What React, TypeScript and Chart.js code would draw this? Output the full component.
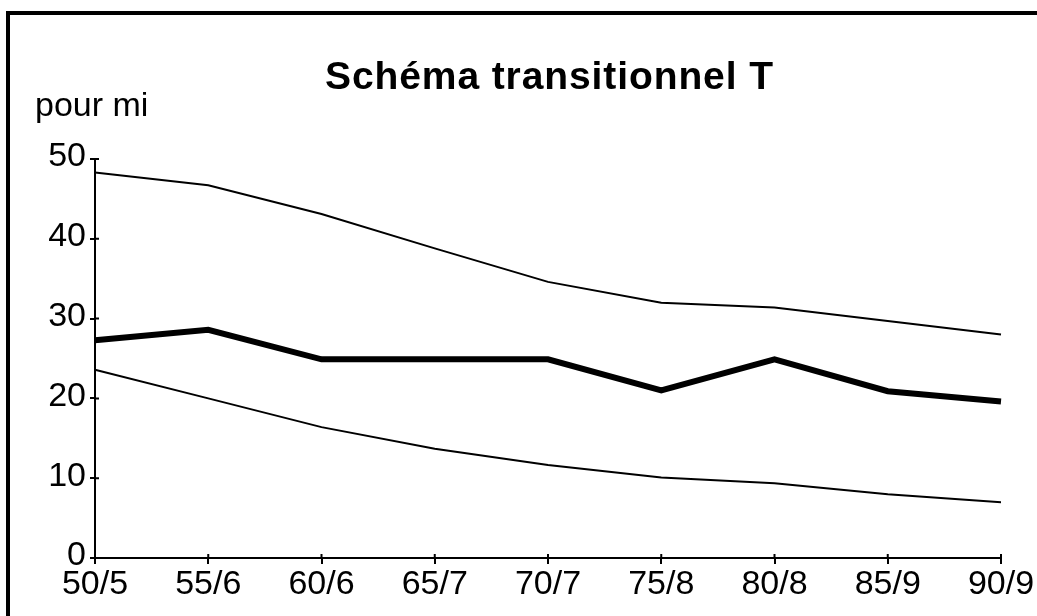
import React, { useEffect, useRef } from "react";
import { Chart, registerables } from "chart.js";

Chart.register(...registerables);

const categories = ["50/5", "55/6", "60/6", "65/7", "70/7", "75/8", "80/8", "85/9", "90/9"];
const upperSeries = [48.3, 46.7, 43.1, 38.8, 34.6, 32.0, 31.4, 29.7, 28.0];
const middleSeries = [27.3, 28.6, 24.9, 24.9, 24.9, 21.0, 24.9, 20.9, 19.6];
const lowerSeries = [23.6, 20.0, 16.4, 13.7, 11.65, 10.1, 9.36, 8.0, 7.0];
const yTicks = [0, 10, 20, 30, 40, 50];
const chartTitle = "Schéma transitionnel T";
const yAxisTitle = "pour mi";

const axisFont = { family: "'Liberation Sans', Arial, sans-serif", size: 34 };

const innerTicks = {
  id: "innerTicks",
  afterDraw(chart: any) {
    const { ctx, chartArea, scales } = chart;
    ctx.save();
    ctx.strokeStyle = "#000";
    ctx.lineWidth = 2;
    ctx.beginPath();
    scales.y.ticks.forEach((_t: any, i: number) => {
      const y = scales.y.getPixelForTick(i);
      ctx.moveTo(chartArea.left, y);
      ctx.lineTo(chartArea.left + 4, y);
    });
    scales.x.ticks.forEach((_t: any, i: number) => {
      const x = scales.x.getPixelForTick(i);
      ctx.moveTo(x, chartArea.bottom);
      ctx.lineTo(x, chartArea.bottom - 4);
    });
    ctx.stroke();
    ctx.restore();
  },
};

export default function App() {
  const canvasRef = useRef<HTMLCanvasElement | null>(null);

  useEffect(() => {
    if (!canvasRef.current) return;
    const lineBase = {
      borderColor: "#000",
      backgroundColor: "#000",
      pointRadius: 0,
      tension: 0,
      fill: false,
      clip: false as any,
      borderJoinStyle: "miter" as const,
      borderCapStyle: "butt" as const,
    };
    const chart = new Chart(canvasRef.current, {
      type: "line",
      data: {
        labels: categories,
        datasets: [
          { ...lineBase, label: "haut", data: upperSeries, borderWidth: 2 },
          { ...lineBase, label: "T", data: middleSeries, borderWidth: 6 },
          { ...lineBase, label: "bas", data: lowerSeries, borderWidth: 2 },
        ],
      },
      options: {
        responsive: false,
        animation: false,
        devicePixelRatio: 1,
        layout: { padding: { left: 0, right: 36, top: 159, bottom: 0 } },
        plugins: {
          legend: { display: false },
          tooltip: { enabled: false },
          title: { display: false },
        },
        scales: {
          x: {
            type: "category",
            offset: false,
            grid: { drawOnChartArea: false, drawTicks: true, tickLength: 6, color: "#000", lineWidth: 2 },
            border: { display: true, color: "#000", width: 2 },
            ticks: { color: "#000", font: axisFont, padding: 0, maxRotation: 0, minRotation: 0, autoSkip: false },
            afterFit(s: any) {
              s.height = 58;
            },
          },
          y: {
            min: 0,
            max: 50,
            grid: { drawOnChartArea: false, drawTicks: true, tickLength: 5, color: "#000", lineWidth: 2 },
            border: { display: true, color: "#000", width: 2 },
            ticks: { color: "#000", font: axisFont, padding: 4, labelOffset: -2, stepSize: 10 },
            afterBuildTicks(s: any) {
              s.ticks = yTicks.map((v) => ({ value: v }));
            },
            afterFit(s: any) {
              s.width = 95;
            },
          },
        },
      } as any,
      plugins: [innerTicks],
    });
    return () => chart.destroy();
  }, []);

  return (
    <div
      style={{
        position: "fixed",
        left: 0,
        top: 0,
        width: 1037,
        height: 616,
        overflow: "hidden",
        background: "#fff",
      }}
    >
      <div
        style={{
          position: "absolute",
          left: 6,
          top: 11,
          width: 1100,
          height: 700,
          border: "4px solid #000",
          boxSizing: "border-box",
        }}
      />
      <canvas
        ref={canvasRef}
        width={1037}
        height={616}
        style={{ position: "absolute", left: 0, top: 0, display: "block" }}
      />
      <div
        style={{
          position: "absolute",
          left: 325,
          top: 56,
          fontFamily: "'Liberation Sans', Arial, sans-serif",
          fontWeight: "bold",
          fontSize: 39,
          lineHeight: "39px",
          letterSpacing: "0.9px",
          whiteSpace: "nowrap",
          color: "#000",
        }}
      >
        {chartTitle}
      </div>
      <div
        style={{
          position: "absolute",
          left: 35,
          top: 87,
          fontFamily: "'Liberation Sans', Arial, sans-serif",
          fontSize: 34,
          lineHeight: "34px",
          whiteSpace: "nowrap",
          color: "#000",
        }}
      >
        {yAxisTitle}
      </div>
    </div>
  );
}
